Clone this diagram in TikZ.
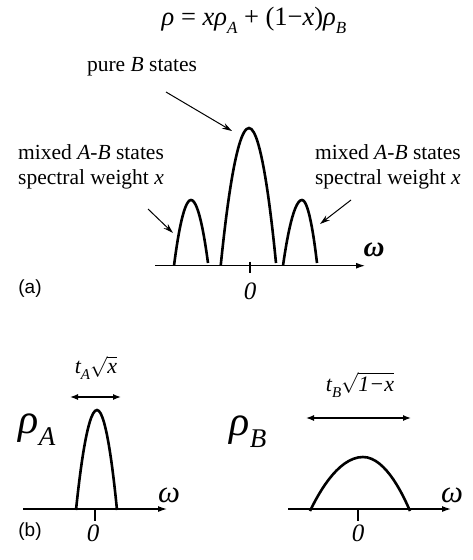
\documentclass[tikz,border=0pt]{standalone}
\usepackage{fontspec}
\setmainfont{Liberation Serif}
\newfontfamily\sansf{Liberation Sans}
\usetikzlibrary{arrows.meta}
\begin{document}
\begin{tikzpicture}[x=1pt,y=-1pt,
  txt/.style={font=\fontsize{21.5}{25}\selectfont, inner sep=0pt, align=left},
  lab/.style={font=\sansf\fontsize{19}{22}\selectfont, inner sep=0pt},
  zero/.style={font=\itshape\fontsize{25}{28}\selectfont, inner sep=0pt},
  peak/.style={line width=2.6pt},
  axis/.style={line width=1.2pt,-{Latex[length=9pt,width=6pt]}},
  tick/.style={line width=1.2pt},
  ptr/.style={line width=1pt,-{Stealth[length=10pt,width=6pt]}},
  dbl/.style={line width=1.3pt,{Latex[length=8pt,width=6pt]}-{Latex[length=8pt,width=6pt]}},
  ]
\useasboundingbox (0,0) rectangle (473,560);

% equation
\node[inner sep=0pt,font=\fontsize{26.5}{30}\selectfont] (eq) at (254,20)
  {\itshape ρ\upshape\ =\ \itshape xρ\raisebox{-0.3em}{\fontsize{17}{20}\selectfont A}\upshape\ +\ (1−\itshape x\upshape)\itshape ρ\raisebox{-0.3em}{\fontsize{17}{20}\selectfont B}};

% ---------- panel (a) ----------
\coordinate (aL) at (155,265.7);
\coordinate (aR) at (365,265.7);
\draw[axis] (aL) -- (aR);
\coordinate (at1) at (250,261.5);
\coordinate (at2) at (250,273);
\draw[tick] (at1) -- (at2);

\draw[peak] (174,265.7) parabola bend (191,200) (208,263);
\draw[peak] (220.7,265.7) parabola bend (249,128) (276,263);
\draw[peak] (283,265.7) parabola bend (302,200) (317,263);

\node[txt, anchor=center] (pure) at (142,67) {pure \textit{B} states};
\node[txt, anchor=west] (mixL) at (18,166.5) {mixed \textit{A-B} states\\spectral weight \textit{x}};
\node[txt, anchor=east] (mixR) at (461,166.5) {mixed \textit{A-B} states\\spectral weight \textit{x}};

\coordinate (p1s) at (166,92);
\coordinate (p1e) at (232,131);
\draw[ptr] (p1s) -- (p1e);
\coordinate (p2s) at (148,209);
\coordinate (p2e) at (173,233);
\draw[ptr] (p2s) -- (p2e);
\coordinate (p3s) at (351,200);
\coordinate (p3e) at (320,224);
\draw[ptr] (p3s) -- (p3e);

\node[inner sep=0pt, font=\bfseries\itshape\fontsize{29}{30}\selectfont] (wa) at (374,250) {ω};
\node[zero] (za) at (250,291) {0};
\node[lab] (la) at (30,289) {(a)};

% ---------- panel (b) ----------
\coordinate (bAL) at (23,509);
\coordinate (bAR) at (167,509);
\draw[axis] (bAL) -- (bAR);
\coordinate (bt1) at (95,509);
\coordinate (bt2) at (95,521);
\draw[tick] (bt1) -- (bt2);
\draw[peak] (76,510) parabola bend (97,410) (117,510);

\coordinate (dA1) at (70,397);
\coordinate (dA2) at (121,397);
\draw[dbl] (dA1) -- (dA2);
\node[inner sep=0pt, font=\fontsize{22}{25}\selectfont] (tA) at (96,368)
  {\itshape t\raisebox{-0.3em}{\fontsize{15}{18}\selectfont A}$\sqrt{\mbox{\itshape x}}$};

\node[inner sep=0pt, font=\fontsize{42}{46}\selectfont] (rA) at (37,430)
  {\itshape ρ\raisebox{-0.28em}{\fontsize{27}{30}\selectfont A}};
\node[inner sep=0pt, font=\itshape\fontsize{31}{34}\selectfont] (wbA) at (169,495) {ω};
\node[zero] (zbA) at (93,533) {0};
\node[lab] (lb) at (30,532) {(b)};

\coordinate (bBL) at (288,509);
\coordinate (bBR) at (451,509);
\draw[axis] (bBL) -- (bBR);
\coordinate (bt3) at (358,509);
\coordinate (bt4) at (358,521);
\draw[tick] (bt3) -- (bt4);
\draw[peak] (310,511) parabola bend (363,457) (410,511);

\coordinate (dB1) at (306,418);
\coordinate (dB2) at (411,418);
\draw[dbl] (dB1) -- (dB2);
\node[inner sep=0pt, font=\fontsize{22}{25}\selectfont] (tB) at (360,385)
  {\itshape t\raisebox{-0.3em}{\fontsize{15}{18}\selectfont B}$\sqrt{\mbox{1−\itshape x}}$};

\node[inner sep=0pt, font=\fontsize{42}{46}\selectfont] (rB) at (248,432)
  {\itshape ρ\raisebox{-0.28em}{\fontsize{27}{30}\selectfont B}};
\node[inner sep=0pt, font=\itshape\fontsize{31}{34}\selectfont] (wbB) at (452,495) {ω};
\node[zero] (zbB) at (358,533) {0};
\end{tikzpicture}
\end{document}
